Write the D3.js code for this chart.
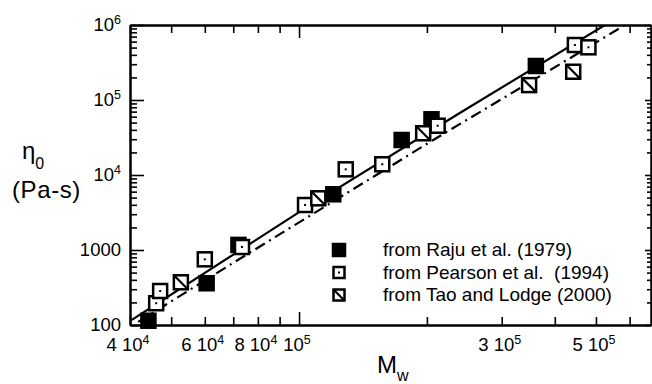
<!DOCTYPE html>
<html>
<head>
<meta charset="utf-8">
<script src="https://cdn.jsdelivr.net/npm/d3@7"></script>
<style>
  body { margin: 0; background: #fff; }
  svg text { font-family: "Liberation Sans", Arial, sans-serif; fill: #000; white-space: pre; }
</style>
</head>
<body>
<div id="chart"></div>
<script>
// Data: Mw (g/mol) and zero shear viscosity (Pa-s)
var raju = [[4.42e4, 114], [6.06e4, 360], [7.2e4, 1170], [1.204e5, 5530],
            [1.744e5, 2.93e4], [2.05e5, 5.53e4], [3.61e5, 2.84e5]];
var pearson = [[4.61e4, 195], [4.71e4, 284], [6.0e4, 751], [7.34e4, 1096],
               [1.033e5, 3980], [1.288e5, 1.19e4], [1.57e5, 1.39e4],
               [2.12e5, 4.54e4], [4.46e5, 5.41e5], [4.8e5, 5.04e5]];
var tao = [[5.27e4, 371], [1.11e5, 4890], [1.96e5, 3.6e4], [3.48e5, 1.58e5], [4.42e5, 2.38e5]];

// The two fit lines
var solidLine = [[4.04e4, 117], [1.005e5, 3243], [2.39e5, 6.71e4], [5.25e5, 1e6]];
var dashLine = [[4.18e4, 110], [6.99e4, 671], [2.07e5, 2.93e4], [4.34e5, 3.6e5], [5.85e5, 1e6]];

// Ticks and their labels
var xMinorTicks = [4e4, 5e4, 6e4, 7e4, 8e4, 9e4, 2e5, 3e5, 4e5, 5e5, 6e5];
var xMajorTicks = [1e5];
var xLabelVals = [4e4, 6e4, 8e4, 1e5, 3e5, 5e5];
var xLabelText = [["4 10", "4"], ["6 10", "4"], ["8 10", "4"], ["10", "5"], ["3 10", "5"], ["5 10", "5"]];
var yMajorTicks = [100, 1000, 1e4, 1e5, 1e6];
var yLabelText = [["100", ""], ["1000", ""], ["10", "4"], ["10", "5"], ["10", "6"]];

var legendNames = ["from Raju et al. (1979)", "from Pearson et al.  (1994)", "from Tao and Lodge (2000)"];

var W = 652, H = 384;
var plot = {left: 130, right: 651, top: 25, bottom: 325};

var svg = d3.select("#chart").append("svg")
    .attr("width", W)
    .attr("height", H);

// Scales (x domain end chosen so the decades fall where the figure has them)
var x = d3.scaleLog()
    .domain([4e4, Math.pow(10, Math.log10(4e4) + 521 / 424.8)])
    .range([plot.left, plot.right]);
var y = d3.scaleLog()
    .domain([100, 1e6])
    .range([plot.bottom, plot.top]);

// minor y ticks, 2..9 in every decade
var yMinorTicks = [];
for (var d = 2; d < 6; d++) {
    for (var k = 2; k < 10; k++) {
        yMinorTicks.push(k * Math.pow(10, d));
    }
}

function styleAxis(g) {
    g.select(".domain").attr("stroke-width", 2);
    g.selectAll(".tick line").attr("stroke-width", 1.6);
}

// Axes: ticks point inward on all four sides
var axes = [
    [d3.axisBottom(x).tickValues(xMinorTicks).tickSize(-8), "translate(0," + plot.bottom + ")"],
    [d3.axisBottom(x).tickValues(xMajorTicks).tickSize(-13), "translate(0," + plot.bottom + ")"],
    [d3.axisTop(x).tickValues(xMinorTicks).tickSize(-8), "translate(0," + plot.top + ")"],
    [d3.axisTop(x).tickValues(xMajorTicks).tickSize(-13), "translate(0," + plot.top + ")"],
    [d3.axisLeft(y).tickValues(yMinorTicks).tickSize(-7), "translate(" + plot.left + ",0)"],
    [d3.axisLeft(y).tickValues(yMajorTicks).tickSize(-14), "translate(" + plot.left + ",0)"],
    [d3.axisRight(y).tickValues(yMinorTicks).tickSize(-4), "translate(" + plot.right + ",0)"],
    [d3.axisRight(y).tickValues(yMajorTicks).tickSize(-6), "translate(" + plot.right + ",0)"]
];
axes.forEach(function(a) {
    svg.append("g")
        .attr("transform", a[1])
        .call(a[0].tickSizeOuter(0).tickFormat(""))
        .call(styleAxis);
});

// Tick labels with superscript exponents
svg.selectAll(".xlab").data(xLabelVals).enter().append("text")
    .attr("class", "xlab")
    .attr("x", function(d) { return x(d) - 2; })
    .attr("y", 351)
    .attr("text-anchor", "middle")
    .style("font-size", "18.5px")
    .each(function(d, i) {
        var t = d3.select(this);
        t.append("tspan").text(xLabelText[i][0]);
        t.append("tspan").attr("dy", -7).style("font-size", "12.5px").text(xLabelText[i][1]);
    });

svg.selectAll(".ylab").data(yMajorTicks).enter().append("text")
    .attr("class", "ylab")
    .attr("x", 121)
    .attr("y", function(d) { return y(d) + 6; })
    .attr("text-anchor", "end")
    .style("font-size", "18.5px")
    .each(function(d, i) {
        var t = d3.select(this);
        t.append("tspan").text(yLabelText[i][0]);
        if (yLabelText[i][1] != "") {
            t.append("tspan").attr("dy", -7).style("font-size", "12.5px").text(yLabelText[i][1]);
        }
    });

// Axis titles
var yt = svg.append("text").attr("x", 22).attr("y", 159).style("font-size", "24px");
yt.append("tspan").text("η");
yt.append("tspan").attr("dy", 10).style("font-size", "16px").text("0");
svg.append("text").attr("x", 12).attr("y", 198).style("font-size", "24px")
    .style("letter-spacing", "0.6px").text("(Pa-s)");

var xt = svg.append("text").attr("x", 377).attr("y", 373).style("font-size", "24px");
xt.append("tspan").text("M");
xt.append("tspan").attr("dy", 8).style("font-size", "16px").text("w");

// Fit lines
var line = d3.line()
    .x(function(d) { return x(d[0]); })
    .y(function(d) { return y(d[1]); });

svg.append("defs").append("clipPath").attr("id", "clip")
    .append("rect")
    .attr("x", plot.left).attr("y", plot.top)
    .attr("width", plot.right - plot.left).attr("height", plot.bottom - plot.top);

var lines = svg.append("g").attr("clip-path", "url(#clip)");
lines.append("path")
    .datum(solidLine)
    .attr("d", line)
    .attr("fill", "none")
    .attr("stroke", "#000")
    .attr("stroke-width", 2.2);
lines.append("path")
    .datum(dashLine)
    .attr("d", line)
    .attr("fill", "none")
    .attr("stroke", "#000")
    .attr("stroke-width", 2.2)
    .attr("stroke-dasharray", "11,5,2,5");

// Marker drawing, s = inner size of the square
function drawMarker(g, kind, cx, cy, s) {
    var h = s / 2;
    g.append("rect")
        .attr("x", cx - h).attr("y", cy - h)
        .attr("width", s).attr("height", s)
        .attr("fill", kind == "raju" ? "#000" : "#fff")
        .attr("stroke", "#000")
        .attr("stroke-width", 2.5);
    if (kind == "pearson") {
        g.append("rect")
            .attr("x", cx - 1).attr("y", cy - 1)
            .attr("width", 2).attr("height", 2)
            .attr("fill", "#000");
    }
    if (kind == "tao") {
        g.append("line")
            .attr("x1", cx - h).attr("y1", cy - h)
            .attr("x2", cx + h).attr("y2", cy + h)
            .attr("stroke", "#000")
            .attr("stroke-width", 2.2);
    }
}

var pts = svg.append("g");
raju.forEach(function(d) { drawMarker(pts, "raju", x(d[0]), y(d[1]), 14); });
pearson.forEach(function(d) { drawMarker(pts, "pearson", x(d[0]), y(d[1]), 14); });
tao.forEach(function(d) { drawMarker(pts, "tao", x(d[0]), y(d[1]), 14); });

// Legend
var kinds = ["raju", "pearson", "tao"];
var leg = svg.append("g");
for (var i = 0; i < 3; i++) {
    drawMarker(leg, kinds[i], 339, 250 + i * 22.5, kinds[i] == "raju" ? 12 : 11);
    leg.append("text")
        .attr("x", 383)
        .attr("y", 256 + i * 22.5)
        .style("font-size", "19px")
        .text(legendNames[i]);
}
</script>
</body>
</html>
